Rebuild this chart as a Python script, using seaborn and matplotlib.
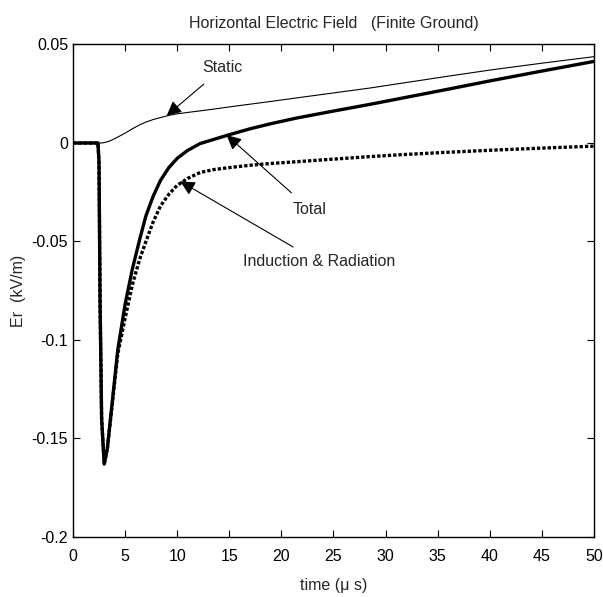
import matplotlib
matplotlib.use("Agg")
import matplotlib.pyplot as plt
import seaborn as sns
import pandas as pd

# time axis (microseconds)
t = [0, 2.4, 2.5, 2.6, 2.75, 3.0, 3.3, 3.7, 4.3, 5.0, 5.7, 6.4, 7.0, 7.7,
     8.4, 9.2, 10.0, 11.0, 12.2, 13.5, 15, 17, 19, 21.5, 25, 28.5, 32, 36,
     40, 45, 50]

# field values (kV/m)
total = [0, 0, -0.01, -0.08, -0.14, -0.163, -0.155, -0.135, -0.105, -0.082,
         -0.064, -0.049, -0.037, -0.027, -0.019, -0.0125, -0.0078, -0.0038,
         -0.0003, 0.0018, 0.0042, 0.0072, 0.0098, 0.0127, 0.0162, 0.0196,
         0.0232, 0.0273, 0.0315, 0.0365, 0.0414]
induction = [0, 0, -0.01, -0.08, -0.14, -0.163, -0.155, -0.136, -0.107,
             -0.089, -0.072, -0.059, -0.050, -0.040, -0.032, -0.026, -0.0215,
             -0.0180, -0.0150, -0.0135, -0.0125, -0.0113, -0.0104, -0.0095,
             -0.0082, -0.0069, -0.0058, -0.0047, -0.0037, -0.0026, -0.0016]
static = [0, 0, 0, 0, 0, 0.0002, 0.0006, 0.0014, 0.0030, 0.0050, 0.0072,
          0.0092, 0.0106, 0.0119, 0.0129, 0.0140, 0.0148, 0.0155, 0.0163,
          0.0172, 0.0183, 0.0197, 0.0211, 0.0229, 0.0254, 0.0279, 0.0307,
          0.0339, 0.0370, 0.0405, 0.0438]

df = pd.DataFrame({"t": t, "total": total, "induction": induction, "static": static})

sns.set_style("ticks")
plt.rcParams['font.family'] = ['Liberation Sans', 'DejaVu Sans']

fig = plt.figure(figsize=(6.03, 5.97), dpi=100)
ax = fig.add_axes([0.121, 0.1005, 0.864, 0.825])

sns.lineplot(data=df, x="t", y="static", ax=ax, color="black", lw=0.8)
sns.lineplot(data=df, x="t", y="induction", ax=ax, color="black", lw=2.4,
             linestyle=(0, (1, 0.6)))
sns.lineplot(data=df, x="t", y="total", ax=ax, color="black", lw=2.4)

ax.set_xlim(0, 50)
ax.set_ylim(-0.2, 0.05)
ax.set_xticks(range(0, 51, 5))
ax.set_yticks([-0.2, -0.15, -0.1, -0.05, 0, 0.05])
ax.set_yticklabels(["-0.2", "-0.15", "-0.1", "-0.05", "0", "0.05"])
ax.tick_params(direction="in", top=True, right=True, length=5, width=0.8,
               labelsize=11.5, colors="black")
ax.tick_params(axis="x", pad=8.5)
for s in ax.spines.values():
    s.set_linewidth(1.0)
    s.set_color("black")

ax.set_xlabel("time (μ s)", fontsize=11.5, labelpad=10)
ax.set_ylabel("Er  (kV/m)", fontsize=11.5)
ax.set_title("Horizontal Electric Field   (Finite Ground)", fontsize=11.5, pad=12)

arrow = dict(arrowstyle="-|>", color="black", lw=0.8, mutation_scale=22)
ax.annotate("Static", xy=(9.0, 0.0139), xytext=(12.45, 0.0381),
            fontsize=11.5, va="center", ha="left",
            arrowprops=dict(arrow, shrinkA=6, shrinkB=0))
ax.annotate("Total", xy=(14.75, 0.0040), xytext=(21.1, -0.0336),
            fontsize=11.5, va="center", ha="left",
            arrowprops=dict(arrow, shrinkA=6, shrinkB=0))
ax.annotate("Induction & Radiation", xy=(10.3, -0.0195), xytext=(16.3, -0.0604),
            fontsize=11.5, va="center", ha="left",
            arrowprops=dict(arrow, shrinkA=6, shrinkB=0))

fig.savefig("out.png", dpi=100)
